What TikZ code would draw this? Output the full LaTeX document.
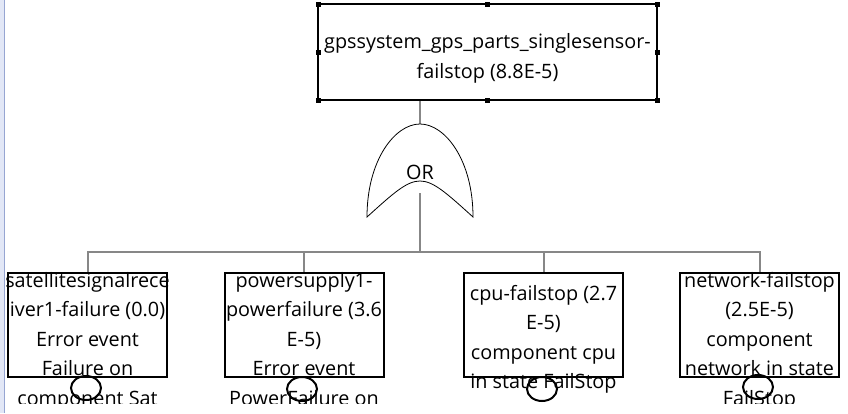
\documentclass[tikz,border=0pt]{standalone}
\usepackage{fontspec}
\setmainfont{Open Sans}
\usetikzlibrary{shapes.geometric}
\begin{document}
\begin{tikzpicture}[x=1pt,y=-1pt,
  box/.style={draw=black,line width=2pt,minimum width=159pt,minimum height=104pt,inner sep=0pt},
  lbl/.style={align=center,anchor=base,inner sep=0pt,font=\fontsize{19.8}{29.5}\selectfont},
  conn/.style={draw=black!47,line width=2pt},
  hnd/.style={fill=black,minimum size=5pt,inner sep=0pt},
  evt/.style={draw=black,line width=2pt,ellipse,minimum width=30pt,minimum height=24pt}]
\useasboundingbox (0,0) rectangle (848,413);
\fill[color={rgb,255:red,226;green,231;blue,246}] (0,0) rectangle (4,413);
\draw[color={rgb,255:red,150;green,165;blue,210},line width=1pt] (4.5,0) -- (4.5,413);
\clip (5,0) rectangle (848,403);
% top event
\node[box,minimum width=339pt,minimum height=96pt] (top) at (487.5,52) {};
\node[lbl] (toptext) at (487.5,78) {gpssystem\_gps\_parts\_singlesensor-\\failstop (8.8E-5)};
\foreach \p in {(318,4),(487.5,4),(657,4),(318,52),(657,52),(318,100),(487.5,100),(657,100)}
  \node[hnd] at \p {};
% gate
\coordinate (gtop) at (420,124);
\coordinate (gbot) at (420,193);
\draw[conn] (gtop |- top.south) -- (gtop);
\draw[black,line width=0.8pt,fill=white] (367,217) .. controls (367,160) and (395,124) .. (gtop)
   .. controls (445,124) and (473,160) .. (473,217)
   .. controls (420,169) .. (367,217) -- cycle;
\node[font=\fontsize{19.8}{22}\selectfont,inner sep=0pt] (gate) at (420,172) {OR};
% children
\node[box] (c1) at (87.5,325) {};
\node[box] (c2) at (304,325) {};
\node[box] (c3) at (543.5,325) {};
\node[box] (c4) at (759.5,325) {};
\coordinate (bar) at (420,252);
\draw[conn] (gbot) -- (bar) -| (c1.north);
\draw[conn] (bar) -| (c2.north);
\draw[conn] (bar) -| (c3.north);
\draw[conn] (bar) -| (c4.north);
\node[lbl] (t1) at (87.5,405) {satellitesignalrece\\iver1-failure (0.0)\\Error event\\Failure on\\component Sat};
\node[lbl] (t2) at (304,405) {powersupply1-\\powerfailure (3.6\\E-5)\\Error event\\PowerFailure on};
\node[lbl] (t3) at (543.5,388.5) {cpu-failstop (2.7\\E-5)\\component cpu\\in state FailStop};
\node[lbl] (t4) at (759.5,405) {network-failstop\\(2.5E-5)\\component\\network in state\\FailStop};
\node[evt] (e1) at (86,388) {};
\node[evt] (e2) at (302,389) {};
\node[evt] (e3) at (542,389) {};
\node[evt] (e4) at (758,387) {};
\end{tikzpicture}
\end{document}
